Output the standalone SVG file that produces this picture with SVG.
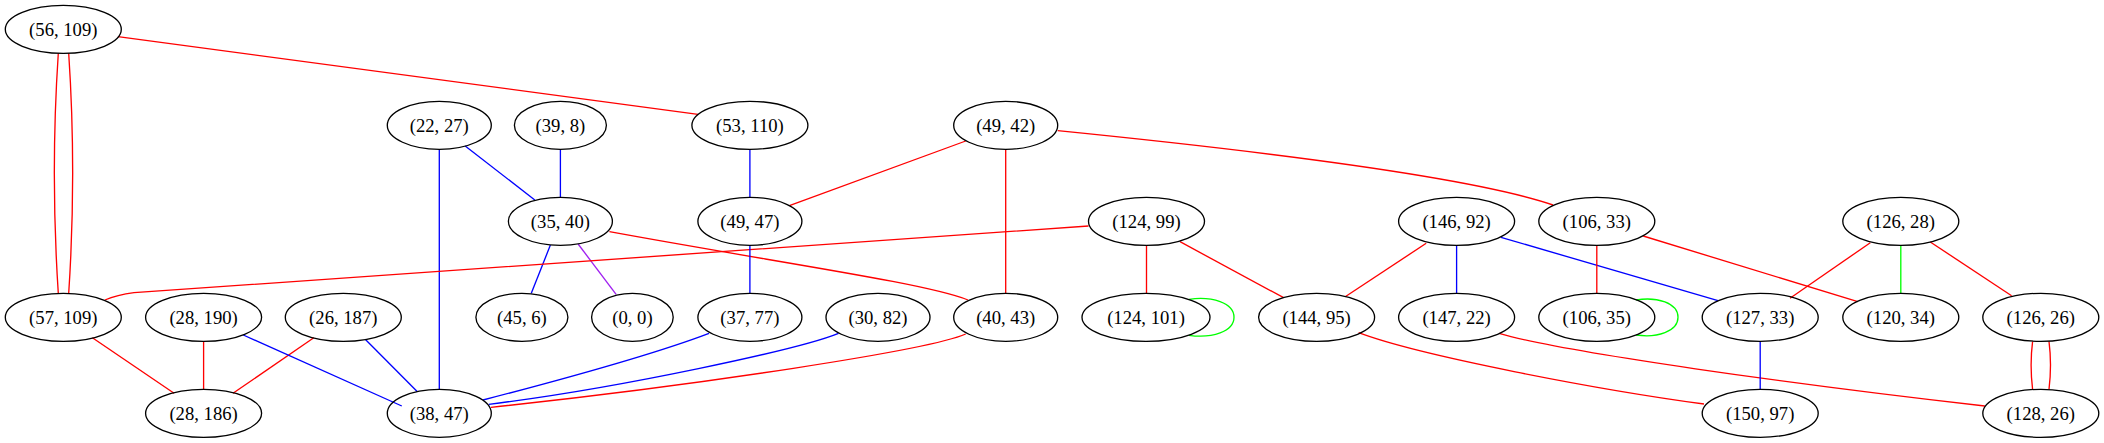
<svg xmlns="http://www.w3.org/2000/svg" width="2104" height="443" viewBox="0 0 2104 443">
<style>
.n ellipse{fill:none;stroke:#000;stroke-width:1.33}
.n text{font-family:"Liberation Serif","Times New Roman",serif;font-size:18.67px;text-anchor:middle;fill:#000}
.e path{fill:none;stroke-width:1.33}
.r{stroke:#ff0000}
.b{stroke:#0000ff}
.g{stroke:#00ff00}
.p{stroke:#a020f0}
</style>
<rect width="2104" height="443" fill="#fff"/>
<g id="edges" class="e">
<path class="r" d="M58.3,53.3 C53,133 53,213 58.3,293.3"/>
<path class="r" d="M68.7,53.3 C74,133 74,213 68.7,293.3"/>
<path class="r" d="M117.9,36.7 L698,114.3"/>
<path class="b" d="M465.2,146 L534.8,200"/>
<path class="b" d="M560.4,149.3 L560.4,197.3"/>
<path class="b" d="M439.3,149.3 L439.3,389.3"/>
<path class="b" d="M550.4,245 L531.3,293.3"/>
<path class="p" d="M578.1,244 L616.1,294.3"/>
<path class="r" d="M609.4,231.7 C780,263 925,283 968,300"/>
<path class="r" d="M1088.5,226 L134,292.7 C120,294.5 112,297 104.9,300"/>
<path class="r" d="M965.7,141 L789.4,205.7"/>
<path class="b" d="M749.9,149.3 L749.9,197.3"/>
<path class="r" d="M1005.7,149.3 L1005.7,293.3"/>
<path class="r" d="M1057.7,130.7 C1300,155 1480,180 1553,205"/>
<path class="r" d="M1146.5,245.3 L1146.5,293.3"/>
<path class="r" d="M1180,241.7 L1283.6,297.7"/>
<path class="g" d="M1189,299.3 C1212,296 1234,303 1234,317.3 C1234,331.6 1212,338.6 1189,335.3"/>
<path class="r" d="M1426.2,243.3 L1345.2,296.7"/>
<path class="b" d="M1456.6,245.3 L1456.6,293.3"/>
<path class="b" d="M1501,237.3 L1718,300.7"/>
<path class="r" d="M1596.8,245.3 L1596.8,293.3"/>
<path class="r" d="M1643.2,236 L1857.8,301.7"/>
<path class="g" d="M1636.2,300 C1657,296.5 1678,303 1678,317.3 C1678,331.6 1657,338.1 1636.2,335"/>
<path class="r" d="M1870.3,242.7 L1790,298.3"/>
<path class="g" d="M1900.8,245.3 L1900.8,293.3"/>
<path class="r" d="M1930.3,242 L2011.6,295.7"/>
<path class="r" d="M2032.6,341.3 C2030.6,357 2030.6,373 2032.6,389.3"/>
<path class="r" d="M2049,341.3 C2051,357 2051,373 2049,389.3"/>
<path class="b" d="M749.9,245.3 L749.9,293.3"/>
<path class="r" d="M92.4,337.7 L174.1,393.3"/>
<path class="r" d="M203.6,341.3 L203.6,389.3"/>
<path class="r" d="M313.8,337.7 L233,393.3"/>
<path class="b" d="M243.3,335 L401.8,406"/>
<path class="b" d="M365.2,339.3 L417.4,391.7"/>
<path class="b" d="M709,333.3 C660,352 560,380 483,400"/>
<path class="b" d="M838.5,333.3 C800,349 620,388 488.8,404.3"/>
<path class="r" d="M965.7,334 C930,350 700,385 491,407.3"/>
<path class="r" d="M1358.6,332.7 C1420,356 1600,390 1704,404"/>
<path class="r" d="M1499.1,333.3 C1560,352 1800,385 1984.8,406"/>
<path class="b" d="M1760.2,341.3 L1760.2,389.3"/>
</g>
<g id="n56_109" class="n"><ellipse cx="63.3" cy="29.3" rx="58" ry="24"/><text x="63.3" y="35.5">(56, 109)</text></g>
<g id="n22_27" class="n"><ellipse cx="439.3" cy="125.3" rx="52" ry="24"/><text x="439.3" y="131.5">(22, 27)</text></g>
<g id="n39_8" class="n"><ellipse cx="560.4" cy="125.3" rx="46" ry="24"/><text x="560.4" y="131.5">(39, 8)</text></g>
<g id="n53_110" class="n"><ellipse cx="749.9" cy="125.3" rx="58" ry="24"/><text x="749.9" y="131.5">(53, 110)</text></g>
<g id="n49_42" class="n"><ellipse cx="1005.7" cy="125.3" rx="52" ry="24"/><text x="1005.7" y="131.5">(49, 42)</text></g>
<g id="n35_40" class="n"><ellipse cx="560.4" cy="221.3" rx="52" ry="24"/><text x="560.4" y="227.5">(35, 40)</text></g>
<g id="n49_47" class="n"><ellipse cx="749.9" cy="221.3" rx="52" ry="24"/><text x="749.9" y="227.5">(49, 47)</text></g>
<g id="n124_99" class="n"><ellipse cx="1146.5" cy="221.3" rx="58" ry="24"/><text x="1146.5" y="227.5">(124, 99)</text></g>
<g id="n146_92" class="n"><ellipse cx="1456.6" cy="221.3" rx="58" ry="24"/><text x="1456.6" y="227.5">(146, 92)</text></g>
<g id="n106_33" class="n"><ellipse cx="1596.8" cy="221.3" rx="58" ry="24"/><text x="1596.8" y="227.5">(106, 33)</text></g>
<g id="n126_28" class="n"><ellipse cx="1900.8" cy="221.3" rx="58" ry="24"/><text x="1900.8" y="227.5">(126, 28)</text></g>
<g id="n57_109" class="n"><ellipse cx="63.3" cy="317.3" rx="58" ry="24"/><text x="63.3" y="323.5">(57, 109)</text></g>
<g id="n28_190" class="n"><ellipse cx="203.6" cy="317.3" rx="58" ry="24"/><text x="203.6" y="323.5">(28, 190)</text></g>
<g id="n26_187" class="n"><ellipse cx="343.3" cy="317.3" rx="58" ry="24"/><text x="343.3" y="323.5">(26, 187)</text></g>
<g id="n45_6" class="n"><ellipse cx="521.9" cy="317.3" rx="46" ry="24"/><text x="521.9" y="323.5">(45, 6)</text></g>
<g id="n0_0" class="n"><ellipse cx="632.4" cy="317.3" rx="40.8" ry="24"/><text x="632.4" y="323.5">(0, 0)</text></g>
<g id="n37_77" class="n"><ellipse cx="749.9" cy="317.3" rx="52" ry="24"/><text x="749.9" y="323.5">(37, 77)</text></g>
<g id="n30_82" class="n"><ellipse cx="878" cy="317.3" rx="52" ry="24"/><text x="878" y="323.5">(30, 82)</text></g>
<g id="n40_43" class="n"><ellipse cx="1005.7" cy="317.3" rx="52" ry="24"/><text x="1005.7" y="323.5">(40, 43)</text></g>
<g id="n124_101" class="n"><ellipse cx="1146" cy="317.3" rx="64" ry="24"/><text x="1146" y="323.5">(124, 101)</text></g>
<g id="n144_95" class="n"><ellipse cx="1316.6" cy="317.3" rx="58" ry="24"/><text x="1316.6" y="323.5">(144, 95)</text></g>
<g id="n147_22" class="n"><ellipse cx="1456.6" cy="317.3" rx="58" ry="24"/><text x="1456.6" y="323.5">(147, 22)</text></g>
<g id="n106_35" class="n"><ellipse cx="1596.8" cy="317.3" rx="58" ry="24"/><text x="1596.8" y="323.5">(106, 35)</text></g>
<g id="n127_33" class="n"><ellipse cx="1760.2" cy="317.3" rx="58" ry="24"/><text x="1760.2" y="323.5">(127, 33)</text></g>
<g id="n120_34" class="n"><ellipse cx="1900.8" cy="317.3" rx="58" ry="24"/><text x="1900.8" y="323.5">(120, 34)</text></g>
<g id="n126_26" class="n"><ellipse cx="2040.8" cy="317.3" rx="58" ry="24"/><text x="2040.8" y="323.5">(126, 26)</text></g>
<g id="n28_186" class="n"><ellipse cx="203.6" cy="413.3" rx="58" ry="24"/><text x="203.6" y="419.5">(28, 186)</text></g>
<g id="n38_47" class="n"><ellipse cx="439.3" cy="413.3" rx="52" ry="24"/><text x="439.3" y="419.5">(38, 47)</text></g>
<g id="n150_97" class="n"><ellipse cx="1760.2" cy="413.3" rx="58" ry="24"/><text x="1760.2" y="419.5">(150, 97)</text></g>
<g id="n128_26" class="n"><ellipse cx="2040.8" cy="413.3" rx="58" ry="24"/><text x="2040.8" y="419.5">(128, 26)</text></g>
</svg>
